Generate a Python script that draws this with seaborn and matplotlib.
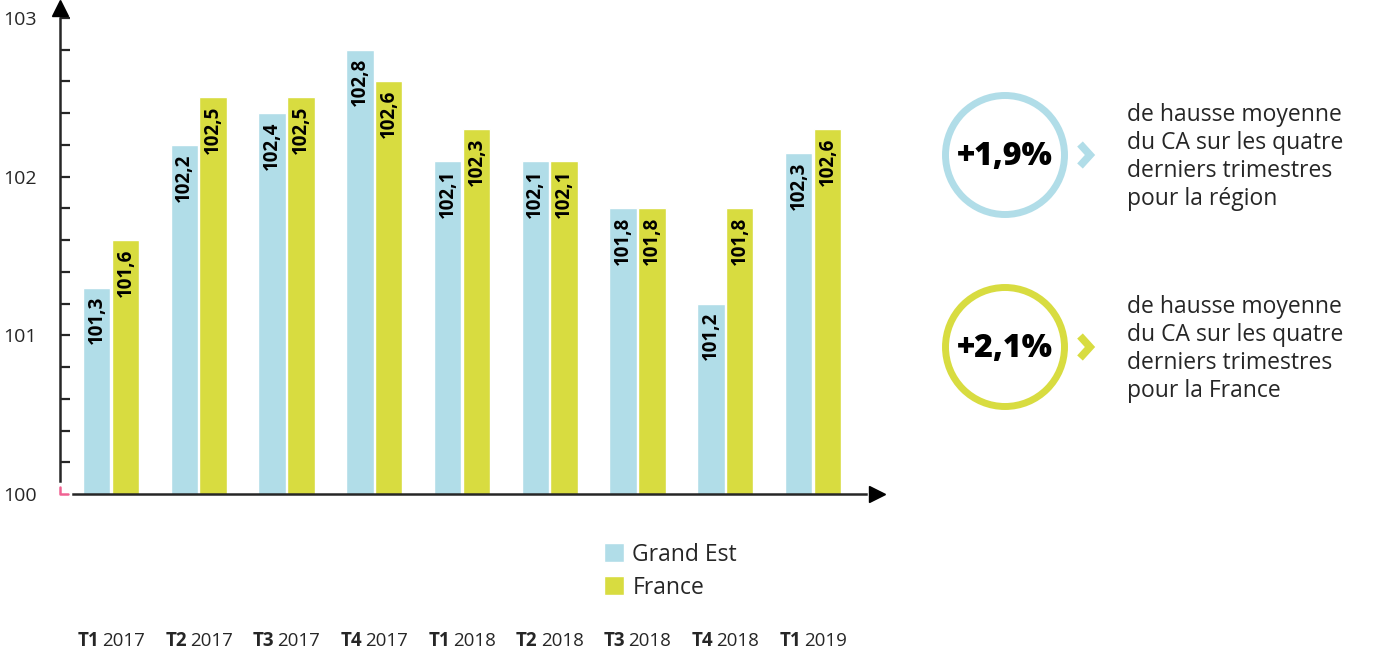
import numpy as np
import pandas as pd
import matplotlib
matplotlib.use("Agg")
import matplotlib.pyplot as plt
import seaborn as sns
from matplotlib.patches import Circle
from matplotlib.ticker import FixedLocator, FixedFormatter

sns.set_style("white")
plt.rcParams['font.family'] = ['Open Sans', 'DejaVu Sans']

## Data ##
quarters = ["T1", "T2", "T3", "T4", "T1", "T2", "T3", "T4", "T1"]
years = ["2017", "2017", "2017", "2017", "2018", "2018", "2018", "2018", "2019"]
grand_est = [101.3, 102.2, 102.4, 102.8, 102.1, 102.1, 101.8, 101.2, 102.15]
france = [101.6, 102.5, 102.5, 102.6, 102.3, 102.1, 101.8, 101.8, 102.3]
labels_ge = ["101,3", "102,2", "102,4", "102,8", "102,1", "102,1", "101,8", "101,2", "102,3"]
labels_fr = ["101,6", "102,5", "102,5", "102,6", "102,3", "102,1", "101,8", "101,8", "102,6"]
series = ["Grand Est", "France"]
colors = ["#b1dde8", "#d8dc40"]

periods = [q + " " + y for q, y in zip(quarters, years)]
df = pd.DataFrame({
    "Valeur": grand_est + france,
    "Zone": [series[0]] * len(periods) + [series[1]] * len(periods),
})
df["Key"] = [f"{i}" for i in range(len(periods))] * 2

W, H = 1381, 651
fig = plt.figure(figsize=(W / 100, H / 100), dpi=100)

# main axes, placed in pixels
x0, x1, ytop, ybot = 60, 877, 8, 494
ax = fig.add_axes([x0 / W, 1 - ybot / H, (x1 - x0) / W, (ybot - ytop) / H])

sns.barplot(data=df, x="Key", y="Valeur", hue="Zone", palette=colors,
            width=0.66, gap=0.05, ax=ax, legend=True, saturation=1)

px = 87.75
ax.set_xlim((x0 - 111) / px, (x1 - 111) / px)
ax.set_ylim(100, 100 + (ybot - ytop) / ((ybot - 18) / 3))

# bar labels
for cont, labs in zip(ax.containers, [labels_ge, labels_fr]):
    for bar, lab in zip(cont, labs):
        ax.annotate(lab, (bar.get_x() + bar.get_width() / 2, bar.get_height() + bar.get_y()),
                    xytext=(0, -6), textcoords="offset points", rotation=90,
                    ha="center", va="top", fontsize=13.5, fontweight="bold", color="black")

# axes styling
for s in ["top", "right"]:
    ax.spines[s].set_visible(False)
ax.spines["left"].set_linewidth(1.8)
ax.spines["bottom"].set_linewidth(1.8)
ax.spines["left"].set_bounds(100.08, 103.0)
ax.spines["bottom"].set_bounds((73 - 111) / px, (866 - 111) / px)
ax.plot(0, 1, "^k", markersize=11, transform=ax.transAxes, clip_on=False)
ax.plot(1, 0, ">k", markersize=11, transform=ax.transAxes, clip_on=False)
# small pink corner
ax.plot([0, 0, 8 / (x1 - x0)], [7 / (ybot - ytop), 0, 0], color="#f06292",
        lw=1.8, transform=ax.transAxes, clip_on=False)

yt = np.round(np.arange(100, 103.01, 0.2), 1)
ax.yaxis.set_major_locator(FixedLocator(yt))
ax.yaxis.set_major_formatter(FixedFormatter([f"{v:.0f}" if abs(v - round(v)) < 1e-6 else "" for v in yt]))
ax.tick_params(axis="y", direction="in", length=7, width=1.6, pad=17, labelsize=14, left=True)
ax.yaxis.get_major_ticks()[0].tick1line.set_visible(False)
ax.set_xticks([])
ax.set_xlabel("")
ax.set_ylabel("")

# category labels
for i, (q, y) in enumerate(zip(quarters, years)):
    ax.annotate(q, (i, 0), xycoords=("data", "axes fraction"), xytext=(-12, -147),
                textcoords="offset pixels", ha="right", va="center", fontsize=13.5, fontweight="bold")
    ax.annotate(y, (i, 0), xycoords=("data", "axes fraction"), xytext=(-9, -147),
                textcoords="offset pixels", ha="left", va="center", fontsize=13.5)

# legend
sns.move_legend(ax, "upper left", bbox_to_anchor=(583 / W, 1 - 522 / H),
                bbox_transform=fig.transFigure, title=None, frameon=False,
                fontsize=16.5, handlelength=0.9, handleheight=0.9,
                handletextpad=0.35, labelspacing=0.4)

# right panel
ov = fig.add_axes([0, 0, 1, 1], zorder=-1)
ov.set_xlim(0, W)
ov.set_ylim(H, 0)
ov.axis("off")

stats = [("+1,9%", "pour la région", colors[0], 155),
         ("+2,1%", "pour la France", colors[1], 347)]
for val, last, col, cy in stats:
    ov.add_patch(Circle((1005, cy), 59.5, fill=False, ec=col, lw=5))
    ov.text(1005, cy + 2, val, ha="center", va="center", fontsize=23,
            fontweight="heavy", color="black")
    ov.plot([1080, 1090, 1080], [cy - 11, cy, cy + 11], color=col, lw=5.5,
            solid_joinstyle="miter", solid_capstyle="butt")
    txt = "de hausse moyenne\ndu CA sur les quatre\nderniers trimestres\n" + last
    ov.text(1127, cy + 2, txt, ha="left", va="center", fontsize=16.5, linespacing=1.24)

fig.savefig("out.png", dpi=100)
